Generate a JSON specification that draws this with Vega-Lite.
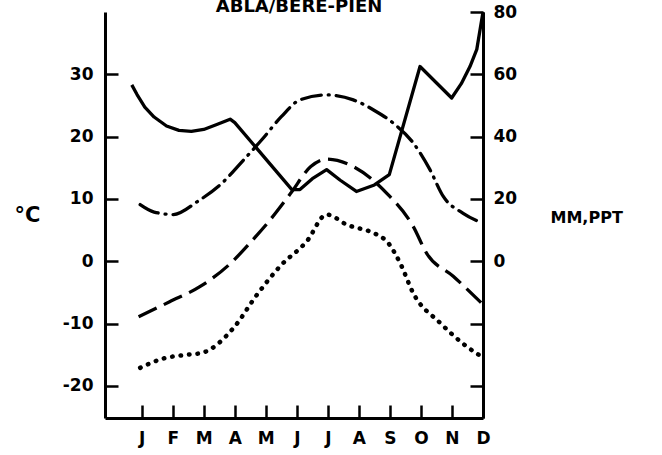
{
  "$schema": "https://vega.github.io/schema/vega-lite/v6.json",
  "autosize": "none",
  "width": 378,
  "height": 406,
  "padding": {"left": 105, "top": 12, "right": 179, "bottom": 37},
  "background": "white",
  "config": {
    "view": {"stroke": null},
    "font": "DejaVu Sans",
    "axis": {
      "grid": false,
      "domainColor": "black",
      "domainWidth": 3,
      "tickColor": "black",
      "tickWidth": 2.5,
      "tickSize": -13,
      "labelFont": "DejaVu Sans",
      "labelFontWeight": "bold",
      "labelFontSize": 17,
      "labelColor": "black",
      "labelOverlap": false,
      "titleFont": "DejaVu Sans",
      "titleFontWeight": "bold",
      "titleColor": "black"
    }
  },
  "title": {
    "text": "ABLA/BERE-PIEN",
    "font": "DejaVu Sans",
    "fontWeight": "bold",
    "fontSize": 18,
    "color": "black",
    "baseline": "alphabetic",
    "offset": 0,
    "dy": 27,
    "dx": 5
  },
  "datasets": {
    "tmax": [
      {"month": 0.95, "temp": 9.1}, {"month": 1.4, "temp": 7.9}, {"month": 2.02, "temp": 7.5},
      {"month": 2.8, "temp": 9.6}, {"month": 3.58, "temp": 12.5}, {"month": 4.2, "temp": 15.8},
      {"month": 4.87, "temp": 19.5}, {"month": 5.5, "temp": 23.2}, {"month": 6.1, "temp": 25.9},
      {"month": 6.96, "temp": 26.7}, {"month": 7.82, "temp": 25.9}, {"month": 8.5, "temp": 24.2},
      {"month": 9.1, "temp": 22.2}, {"month": 9.75, "temp": 19.0}, {"month": 10.29, "temp": 14.7},
      {"month": 10.72, "temp": 10.4}, {"month": 11.36, "temp": 7.7}, {"month": 11.95, "temp": 6.2}
    ],
    "tmean": [
      {"month": 0.9, "temp": -8.9}, {"month": 1.9, "temp": -6.5}, {"month": 2.9, "temp": -4.0},
      {"month": 3.87, "temp": -0.3}, {"month": 4.5, "temp": 3.0}, {"month": 5.05, "temp": 6.1},
      {"month": 5.8, "temp": 10.9}, {"month": 6.45, "temp": 15.2}, {"month": 6.96, "temp": 16.4},
      {"month": 7.82, "temp": 15.2}, {"month": 8.9, "temp": 10.9}, {"month": 9.75, "temp": 5.6},
      {"month": 10.18, "temp": 1.3}, {"month": 11.04, "temp": -2.4}, {"month": 11.95, "temp": -6.7}
    ],
    "tmin": [
      {"month": 0.95, "temp": -17.1}, {"month": 1.7, "temp": -15.6}, {"month": 2.45, "temp": -15.0},
      {"month": 2.94, "temp": -14.7}, {"month": 3.96, "temp": -10.7}, {"month": 4.71, "temp": -5.4},
      {"month": 5.46, "temp": -0.8}, {"month": 6.32, "temp": 3.2}, {"month": 6.96, "temp": 7.5},
      {"month": 7.6, "temp": 5.9}, {"month": 8.57, "temp": 4.3}, {"month": 8.9, "temp": 3.2},
      {"month": 9.33, "temp": -0.3}, {"month": 9.75, "temp": -5.1}, {"month": 10.62, "temp": -9.9},
      {"month": 11.48, "temp": -13.7}, {"month": 11.95, "temp": -15.3}
    ],
    "ppt": [
      {"month": 0.68, "mm": 56.6}, {"month": 0.85, "mm": 53.5}, {"month": 1.1, "mm": 49.5},
      {"month": 1.4, "mm": 46.3}, {"month": 1.8, "mm": 43.4}, {"month": 2.2, "mm": 42.0},
      {"month": 2.6, "mm": 41.7}, {"month": 3.0, "mm": 42.3}, {"month": 3.4, "mm": 43.8},
      {"month": 3.85, "mm": 45.6}, {"month": 4.0, "mm": 44.5}, {"month": 5.84, "mm": 23.0},
      {"month": 6.1, "mm": 23.0}, {"month": 6.5, "mm": 26.5}, {"month": 6.96, "mm": 29.4},
      {"month": 7.4, "mm": 26.0}, {"month": 7.92, "mm": 22.4}, {"month": 8.5, "mm": 24.5},
      {"month": 8.98, "mm": 27.8}, {"month": 9.97, "mm": 62.5}, {"month": 10.99, "mm": 52.4},
      {"month": 11.3, "mm": 57.0}, {"month": 11.58, "mm": 62.5}, {"month": 11.8, "mm": 68.0},
      {"month": 12.0, "mm": 80.0}
    ]
  },
  "layer": [
    {
      "layer": [
        {
          "data": {"name": "tmax"},
          "mark": {"type": "line", "color": "black", "strokeWidth": 3.3, "interpolate": "monotone", "strokeDash": [20, 7, 1, 7], "strokeCap": "round"},
          "encoding": {
            "x": {"field": "month", "type": "quantitative", "scale": {"domain": [-0.183, 12], "nice": false, "zero": false},
              "axis": {"values": [1,2,3,4,5,6,7,8,9,10,11,12], "tickCount": 24, "title": null, "labelPadding": 25,
                "labelOverlap": false, "labelBound": false, "labelFlush": false,
                "labelExpr": "substring('JFMAMJJASOND', datum.value - 1, datum.value)"}},
            "y": {"field": "temp", "type": "quantitative", "scale": {"domain": [-25.15, 40], "nice": false, "zero": false},
              "axis": {"orient": "left", "values": [-20,-10,0,10,20,30], "tickCount": 12, "labelPadding": 25,
                "labelExpr": "replace(datum.label, '\u2212', '-')",
                "title": "°C", "titleAngle": 0, "titleAlign": "left", "titleBaseline": "alphabetic",
                "titleX": -91, "titleY": 209, "titleFontSize": 21}}
          }
        },
        {
          "data": {"name": "tmean"},
          "mark": {"type": "line", "color": "black", "strokeWidth": 3.3, "interpolate": "monotone", "strokeDash": [20, 8]},
          "encoding": {
            "x": {"field": "month", "type": "quantitative"},
            "y": {"field": "temp", "type": "quantitative"}
          }
        },
        {
          "data": {"name": "tmin"},
          "mark": {"type": "line", "color": "black", "strokeWidth": 4.5, "interpolate": "monotone", "strokeDash": [0.5, 8], "strokeCap": "round"},
          "encoding": {
            "x": {"field": "month", "type": "quantitative"},
            "y": {"field": "temp", "type": "quantitative"}
          }
        }
      ]
    },
    {
      "data": {"name": "ppt"},
      "mark": {"type": "line", "color": "black", "strokeWidth": 3.3, "strokeJoin": "round"},
      "encoding": {
        "x": {"field": "month", "type": "quantitative"},
        "y": {"field": "mm", "type": "quantitative", "scale": {"domain": [-50.3, 80], "nice": false, "zero": false},
          "axis": {"orient": "right", "values": [-40,-20,0,20,40,60,80], "tickCount": 14, "labelPadding": 23,
            "labelExpr": "datum.value < 0 ? '' : datum.label",
            "title": "MM,PPT", "titleAngle": 0, "titleAlign": "left", "titleBaseline": "alphabetic",
            "titleX": 67, "titleY": 210, "titleFontSize": 16}}
      }
    }
  ],
  "resolve": {"scale": {"y": "independent"}}
}
